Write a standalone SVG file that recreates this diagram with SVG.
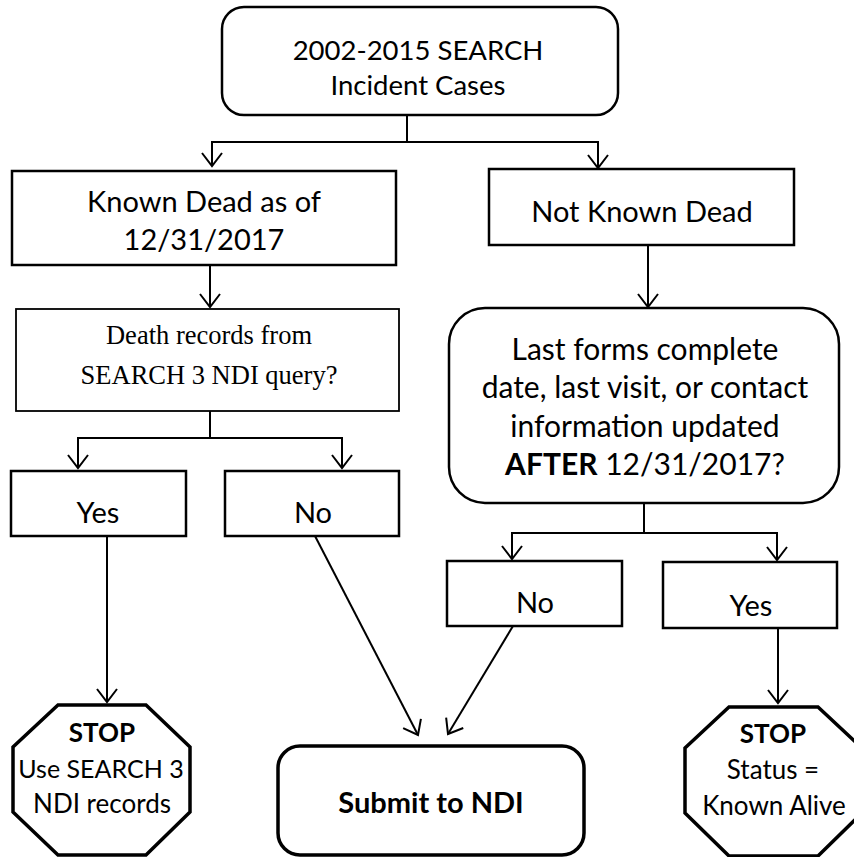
<svg xmlns="http://www.w3.org/2000/svg" width="854" height="857" viewBox="0 0 854 857">
<style>
.box{fill:#fff;stroke:#000;stroke-width:2.5}
.thin{fill:#fff;stroke:#000;stroke-width:1.8}
.thick{fill:#fff;stroke:#000;stroke-width:3.5}
.t{font-family:Lato,"Liberation Sans",sans-serif;font-size:29px;text-anchor:middle;fill:#000}
.top{font-size:27.5px}
.lf{font-size:30px}
.oc{font-size:26px}
.s{font-family:"Liberation Serif",serif;font-size:26.5px;text-anchor:middle;fill:#000}
.b{font-weight:bold}
.c{fill:none;stroke:#000;stroke-width:2}
</style>
<defs>
<marker id="ah" markerUnits="userSpaceOnUse" markerWidth="24" markerHeight="24" viewBox="-14 -12 16 24" refX="0" refY="0" orient="auto">
<path d="M-13,-10 L0,0 L-13,10" fill="none" stroke="#000" stroke-width="2"/>
</marker>
</defs>
<g id="connectors">
<path class="c" d="M407,115 V142 H212 V166" marker-end="url(#ah)"/>
<path class="c" d="M407,142 H598 V168" marker-end="url(#ah)"/>
<path class="c" d="M210,265 V307" marker-end="url(#ah)"/>
<path class="c" d="M648,245 V307" marker-end="url(#ah)"/>
<path class="c" d="M210,411 V438 H78 V468" marker-end="url(#ah)"/>
<path class="c" d="M210,438 H342 V468" marker-end="url(#ah)"/>
<path class="c" d="M107,536 V702" marker-end="url(#ah)"/>
<path class="c" d="M315,536 L418,735" marker-end="url(#ah)"/>
<path class="c" d="M644,503 V533 H512 V559" marker-end="url(#ah)"/>
<path class="c" d="M644,533 H777 V560" marker-end="url(#ah)"/>
<path class="c" d="M513,626 L448,734" marker-end="url(#ah)"/>
<path class="c" d="M778,628 V703" marker-end="url(#ah)"/>
</g>
<g id="start">
<rect class="box" x="222" y="7" width="396" height="108" rx="22"/>
<text class="t top" x="418" y="60">2002-2015 SEARCH</text>
<text class="t top" x="418" y="95">Incident Cases</text>
</g>
<g id="known-dead">
<rect class="box" x="12" y="171" width="384" height="94"/>
<text class="t" x="204" y="212">Known Dead as of</text>
<text class="t" x="204" y="250">12/31/2017</text>
</g>
<g id="not-known-dead">
<rect class="box" x="489" y="169" width="305" height="76"/>
<text class="t" x="642" y="222">Not Known Dead</text>
</g>
<g id="death-records">
<rect class="thin" x="16" y="309" width="383" height="102"/>
<text class="s" x="209" y="344">Death records from</text>
<text class="s" x="209" y="384">SEARCH 3 NDI query?</text>
</g>
<g id="last-forms">
<rect class="box" x="449" y="308" width="390" height="195" rx="36"/>
<text class="t lf" x="645" y="360">Last forms complete</text>
<text class="t lf" x="645" y="398">date, last visit, or contact</text>
<text class="t lf" x="645" y="437">information updated</text>
<text class="t lf" x="645" y="475"><tspan class="b">AFTER</tspan> 12/31/2017?</text>
</g>
<g id="yes-left">
<rect class="box" x="11" y="471" width="175" height="65"/>
<text class="t" x="98" y="523">Yes</text>
</g>
<g id="no-left">
<rect class="box" x="225" y="471" width="174" height="65"/>
<text class="t" x="313" y="523">No</text>
</g>
<g id="no-right">
<rect class="box" x="447" y="561" width="175" height="65"/>
<text class="t" x="535" y="613">No</text>
</g>
<g id="yes-right">
<rect class="box" x="663" y="562" width="174" height="66"/>
<text class="t" x="751" y="616">Yes</text>
</g>
<g id="stop-left">
<polygon class="thick" points="58,705 146,705 190,747 190,812 146,855 58,855 13,812 13,747"/>
<text class="t oc b" x="102" y="742">STOP</text>
<text class="t" x="101" y="778" style="font-size:25px">Use SEARCH 3</text>
<text class="t oc" x="102" y="813">NDI records</text>
</g>
<g id="submit">
<rect class="thick" x="278" y="746" width="306" height="109" rx="22"/>
<text class="t b" x="431" y="813">Submit to NDI</text>
</g>
<g id="stop-right">
<polygon class="thick" points="729,707 818,707 862,748 862,813 818,856 729,856 685,813 685,748"/>
<text class="t oc b" x="773" y="743">STOP</text>
<text class="t oc" x="773" y="779">Status =</text>
<text class="t oc" x="774" y="815">Known Alive</text>
</g>
</svg>
